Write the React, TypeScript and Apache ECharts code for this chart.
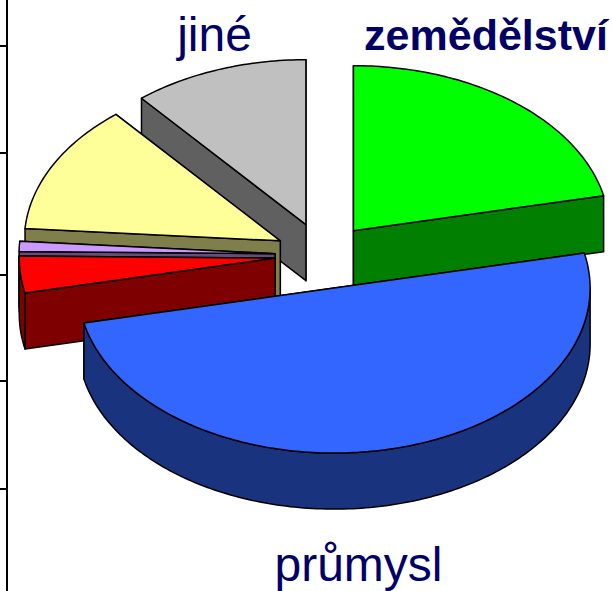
import React, { useEffect, useRef } from "react";
import * as echarts from "echarts";

const categories = ["zemědělství", "průmysl", "doprava", "služby", "domácnosti", "jiné"];
const shares = [21.6, 50, 3.6, 1, 12.7, 11.1];
const axisTicks = [46, 153, 275, 381, 489];

const topColors = ["#00FF00", "#3366FF", "#FF0000", "#CC99FF", "#FFFF99", "#C0C0C0"];
const sideColors = ["#007F00", "#1A337F", "#7F0000", "#664C7F", "#7F7F4C", "#606060"];
const explodeBy = [48.5, 52.5, 48, 48, 48, 50];
const drawOrder = [5, 4, 3, 2, 0, 1];

const W = 612;
const H = 591;
const CX = 323;
const CY = 255;
const RX = 256;
const RY = 165;
const DEPTH = 56;
const FIRST_ANGLE = 90;

const startAngles: number[] = [];
shares.reduce((acc, v, i) => {
  startAngles[i] = FIRST_ANGLE - (acc / 100) * 360;
  return acc + v;
}, 0);

const rad = (d: number) => (d * Math.PI) / 180;

function arcPoints(ox: number, oy: number, from: number, to: number, dy = 0) {
  const n = Math.max(1, Math.ceil(Math.abs(from - to)));
  const pts: number[][] = [];
  for (let k = 0; k <= n; k++) {
    const a = rad(from + ((to - from) * k) / n);
    pts.push([ox + RX * Math.cos(a), oy - RY * Math.sin(a) + dy]);
  }
  return pts;
}

function renderSlice(_params: any, api: any) {
  const value = api.value(0) as number;
  const start = api.value(1) as number;
  const idx = api.value(2) as number;
  const end = start - (value / 100) * 360;
  const mid = rad((start + end) / 2);
  const ox = CX + explodeBy[idx] * Math.cos(mid);
  const oy = CY - (explodeBy[idx] * Math.sin(mid) * RY) / RX;
  const lineStyle = { stroke: "#000", lineWidth: 1.5, lineJoin: "round" };
  const side = { ...lineStyle, fill: sideColors[idx] };
  const children: any[] = [];

  const face = (angle: number) => {
    const a = rad(angle);
    const ex = ox + RX * Math.cos(a);
    const ey = oy - RY * Math.sin(a);
    return {
      type: "polygon",
      shape: { points: [[ox, oy], [ex, ey], [ex, ey + DEPTH], [ox, oy + DEPTH]] },
      style: side,
    };
  };
  // far radial wall first, near radial wall after it
  const faces = [start, end].sort((p, q) => Math.sin(rad(q)) - Math.sin(rad(p)));
  faces.forEach((f) => children.push(face(f)));

  const rimFrom = Math.min(start, 0);
  const rimTo = Math.max(end, -180);
  if (rimFrom > rimTo) {
    const upper = arcPoints(ox, oy, rimFrom, rimTo);
    const lower = arcPoints(ox, oy, rimTo, rimFrom, DEPTH);
    children.push({ type: "polygon", shape: { points: upper.concat(lower) }, style: side });
  }

  children.push({
    type: "polygon",
    shape: { points: [[ox, oy], ...arcPoints(ox, oy, start, end)] },
    style: { ...lineStyle, fill: topColors[idx] },
  });
  return { type: "group", children };
}

export default function App() {
  const ref = useRef<HTMLDivElement>(null);
  useEffect(() => {
    const chart = echarts.init(ref.current!, undefined, { renderer: "svg" });
    chart.setOption({
      animation: false,
      backgroundColor: "#fff",
      grid: { left: 7, top: 0, width: W - 7, height: H },
      xAxis: { type: "value", show: false, min: 0, max: W },
      yAxis: {
        type: "value",
        min: 0,
        max: H,
        inverse: true,
        position: "left",
        splitLine: { show: false },
        axisLabel: { show: false },
        axisLine: { show: true, onZero: false, lineStyle: { color: "#000", width: 2 } },
        axisTick: {
          show: true,
          length: 7,
          customValues: axisTicks,
          lineStyle: { color: "#000", width: 2 },
        },
      },
      series: [
        {
          type: "custom",
          coordinateSystem: "none",
          silent: true,
          clip: false,
          renderItem: renderSlice,
          data: drawOrder.map((i) => [shares[i], startAngles[i], i]),
        },
      ],
      graphic: [
        {
          type: "text",
          x: 214.5,
          y: 58,
          style: {
            text: categories[5],
            font: '48px "Liberation Sans"',
            fill: "#000066",
            align: "center",
            verticalAlign: "bottom",
          },
        },
        {
          type: "text",
          x: 486,
          y: 56,
          style: {
            text: categories[0],
            font: 'bold 43px "Liberation Sans"',
            fill: "#000066",
            align: "center",
            verticalAlign: "bottom",
          },
        },
        {
          type: "text",
          x: 358.5,
          y: 588,
          style: {
            text: categories[1],
            font: '48px "Liberation Sans"',
            fill: "#000066",
            align: "center",
            verticalAlign: "bottom",
          },
        },
      ],
    });
    return () => chart.dispose();
  }, []);
  return (
    <div
      ref={ref}
      style={{ position: "fixed", left: 0, top: 0, width: W, height: H }}
    />
  );
}
